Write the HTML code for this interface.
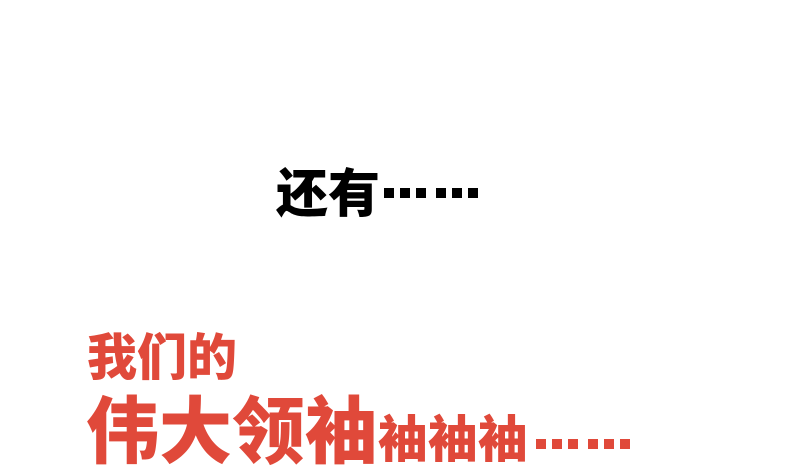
<!DOCTYPE html>
<html>
<head>
<meta charset="utf-8">
<style>
  html,body{margin:0;padding:0;}
  body{width:800px;height:470px;background:#fff;position:relative;overflow:hidden;
       font-family:"Liberation Sans","Noto Sans CJK SC",sans-serif;font-weight:900;}
  .t{position:absolute;white-space:nowrap;line-height:1;}
  .red{color:#e0493a;}
  .d{position:absolute;width:10px;height:10px;}
  .k{background:#000;}
  .r{background:#e0493a;}
</style>
</head>
<body>
  <div class="t" style="left:276px;top:169px;font-size:52px;color:#000;">还有</div>
  <div>
    <div class="d k" style="left:384px;top:188px;"></div>
    <div class="d k" style="left:400px;top:188px;"></div>
    <div class="d k" style="left:416px;top:188px;"></div>
    <div class="d k" style="left:436px;top:188px;"></div>
    <div class="d k" style="left:452px;top:188px;"></div>
    <div class="d k" style="left:468px;top:188px;"></div>
  </div>
  <div class="t red" style="left:87px;top:333px;font-size:50px;">我们的</div>
  <div class="t red" style="left:86px;top:396px;font-size:73px;">伟大领袖<span style="font-size:50px;">袖袖袖</span></div>
  <div>
    <div class="d r" style="left:536px;top:439px;"></div>
    <div class="d r" style="left:552px;top:439px;"></div>
    <div class="d r" style="left:568px;top:439px;"></div>
    <div class="d r" style="left:588px;top:439px;"></div>
    <div class="d r" style="left:604px;top:439px;"></div>
    <div class="d r" style="left:620px;top:439px;"></div>
  </div>
</body>
</html>
